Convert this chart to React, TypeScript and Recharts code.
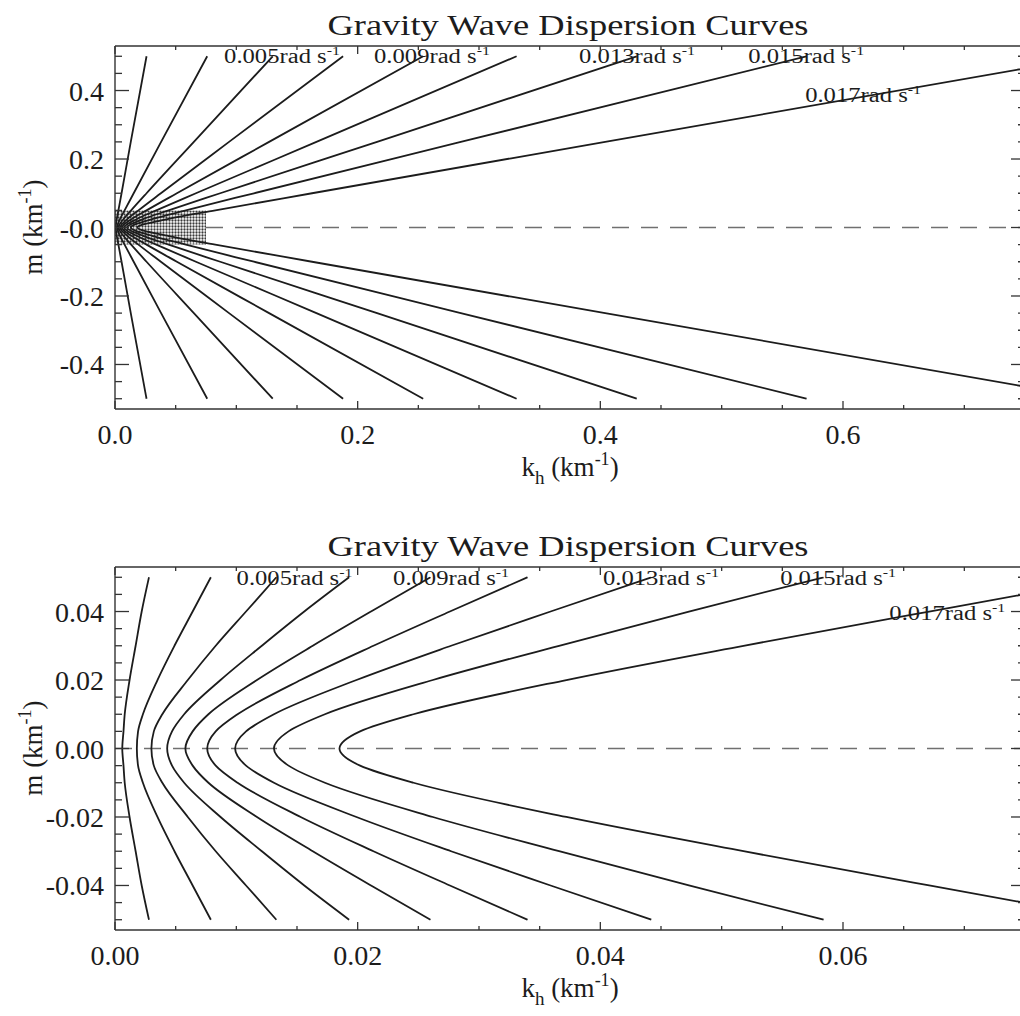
import React from "react"
import { LineChart, Line, XAxis, YAxis, ReferenceArea, ReferenceLine } from "recharts"

const FONT = '"Liberation Serif", "Times New Roman", Times, serif'
const INK = "#1c1c1c"
const AXIS = "#333333"

// contours that carry a printed frequency label (rad/s)
const labelFreq = ["0.005", "0.009", "0.013", "0.015", "0.017"]

// ---------- wide view: m levels (km^-1) and k_h on each contour ----------
const mWide = [0.5, 0.25, 0.1, 0.05, 0.025, 0, -0.025, -0.05, -0.1, -0.25, -0.5]
const wide001 = [0.026, 0.013, 0.0054, 0.0028, 0.0015, 0.0006, 0.0015, 0.0028, 0.0054, 0.013, 0.026]
const wide003 = [0.076, 0.038, 0.0154, 0.0079, 0.0042, 0.0018, 0.0042, 0.0079, 0.0154, 0.038, 0.076]
const wide005 = [0.13, 0.065, 0.026, 0.0133, 0.0071, 0.003, 0.0071, 0.0133, 0.026, 0.065, 0.13]
const wide007 = [0.188, 0.094, 0.0378, 0.0193, 0.0103, 0.0043, 0.0103, 0.0193, 0.0378, 0.094, 0.188]
const wide009 = [0.254, 0.127, 0.051, 0.026, 0.0139, 0.0058, 0.0139, 0.026, 0.051, 0.127, 0.254]
const wide011 = [0.331, 0.166, 0.0667, 0.034, 0.0182, 0.0076, 0.0182, 0.034, 0.0667, 0.166, 0.331]
const wide013 = [0.43, 0.216, 0.0867, 0.0442, 0.0237, 0.0099, 0.0237, 0.0442, 0.0867, 0.216, 0.43]
const wide015 = [0.57, 0.285, 0.1145, 0.0584, 0.0313, 0.0131, 0.0313, 0.0584, 0.1145, 0.285, 0.57]
const wide017 = [0.807, 0.404, 0.1624, 0.0827, 0.0444, 0.0185, 0.0444, 0.0827, 0.1624, 0.404, 0.807]
const wideCurves = [wide001, wide003, wide005, wide007, wide009, wide011, wide013, wide015, wide017]

const wideLabelK = [0.1377, 0.2613, 0.4303, 0.5697, 0.6166]
const wideLabelM = [0.5, 0.5, 0.5, 0.5, 0.386]

const wideXMajor = [0, 0.2, 0.4, 0.6]
const wideXText = ["0.0", "0.2", "0.4", "0.6"]
const wideXMinor = [0.05, 0.1, 0.15, 0.25, 0.3, 0.35, 0.45, 0.5, 0.55, 0.65, 0.7]
const wideYMajor = [-0.4, -0.2, 0, 0.2, 0.4]
const wideYText = ["-0.4", "-0.2", "-0.0", "0.2", "0.4"]
const wideYMinor = [-0.5, -0.45, -0.35, -0.3, -0.25, -0.15, -0.1, -0.05, 0.05, 0.1, 0.15, 0.25, 0.3, 0.35, 0.45, 0.5]

// ---------- close-up near the origin ----------
const mZoom = [0.05, 0.04, 0.03, 0.02, 0.01, 0.005, 0, -0.005, -0.01, -0.02, -0.03, -0.04, -0.05]
const zoom001 = [0.0028, 0.0022, 0.0017, 0.0012, 0.0008, 0.0007, 0.0006, 0.0007, 0.0008, 0.0012, 0.0017, 0.0022, 0.0028]
const zoom003 = [0.0079, 0.0064, 0.0049, 0.0035, 0.0023, 0.0019, 0.0018, 0.0019, 0.0023, 0.0035, 0.0049, 0.0064, 0.0079]
const zoom005 = [0.0133, 0.0108, 0.0083, 0.006, 0.0039, 0.0032, 0.003, 0.0032, 0.0039, 0.006, 0.0083, 0.0108, 0.0133]
const zoom007 = [0.0193, 0.0156, 0.0121, 0.0087, 0.0057, 0.0047, 0.0043, 0.0047, 0.0057, 0.0087, 0.0121, 0.0156, 0.0193]
const zoom009 = [0.026, 0.0211, 0.0163, 0.0117, 0.0077, 0.0064, 0.0058, 0.0064, 0.0077, 0.0117, 0.0163, 0.0211, 0.026]
const zoom011 = [0.034, 0.0276, 0.0213, 0.0153, 0.0101, 0.0083, 0.0076, 0.0083, 0.0101, 0.0153, 0.0213, 0.0276, 0.034]
const zoom013 = [0.0442, 0.0359, 0.0277, 0.0199, 0.0131, 0.0108, 0.0099, 0.0108, 0.0131, 0.0199, 0.0277, 0.0359, 0.0442]
const zoom015 = [0.0584, 0.0473, 0.0366, 0.0262, 0.0173, 0.0143, 0.0131, 0.0143, 0.0173, 0.0262, 0.0366, 0.0473, 0.0584]
const zoom017 = [0.0827, 0.0671, 0.0518, 0.0372, 0.0246, 0.0202, 0.0185, 0.0202, 0.0246, 0.0372, 0.0518, 0.0671, 0.0827]
const zoomCurves = [zoom001, zoom003, zoom005, zoom007, zoom009, zoom011, zoom013, zoom015, zoom017]

const zoomLabelK = [0.0148, 0.0277, 0.045, 0.0596, 0.0686]
const zoomLabelM = [0.0499, 0.0499, 0.0499, 0.0499, 0.0397]

const zoomXMajor = [0, 0.02, 0.04, 0.06]
const zoomXText = ["0.00", "0.02", "0.04", "0.06"]
const zoomXMinor = [0.005, 0.01, 0.015, 0.025, 0.03, 0.035, 0.045, 0.05, 0.055, 0.065, 0.07]
const zoomYMajor = [-0.04, -0.02, 0, 0.02, 0.04]
const zoomYText = ["-0.04", "-0.02", "0.00", "0.02", "0.04"]
const zoomYMinor = [-0.05, -0.045, -0.035, -0.03, -0.025, -0.015, -0.01, -0.005, 0.005, 0.01, 0.015, 0.025, 0.03, 0.035, 0.045, 0.05]

type Pt = { k: number; m: number; freq?: string }
type Side = "bottom" | "top" | "left" | "right"

const toPoints = (ks: number[], ms: number[]): Pt[] => ks.map((k, i) => ({ k, m: ms[i] }))

// inward IDL-style ticks; labels only on the outer bottom/left axes
function tickRenderer(side: Side, majors: number[], texts: string[]) {
  return (props: any) => {
    const { x, y, payload } = props
    const v = payload.value
    const idx = majors.findIndex((t) => Math.abs(t - v) < 1e-9)
    const major = idx >= 0
    const horiz = side === "bottom" || side === "top"
    const len = horiz ? (major ? 8 : 4) : major ? 14 : 7
    let line
    if (side === "bottom") line = <line x1={x} y1={y} x2={x} y2={y - len} />
    else if (side === "top") line = <line x1={x} y1={y} x2={x} y2={y + len} />
    else if (side === "left") line = <line x1={x} y1={y} x2={x + len} y2={y} />
    else line = <line x1={x} y1={y} x2={x - len} y2={y} />
    return (
      <g>
        <g stroke={AXIS} strokeWidth={1.3}>{line}</g>
        {major && side === "bottom" && (
          <text x={x} y={y + 35} textAnchor="middle" fontFamily={FONT} fontSize={28} fill={INK}>
            {texts[idx]}
          </text>
        )}
        {major && side === "left" && (
          <text x={x - 11} y={y + 10} textAnchor="end" fontFamily={FONT} fontSize={28} fill={INK}>
            {texts[idx]}
          </text>
        )}
      </g>
    )
  }
}

function labelRenderer(yTop: number) {
  return (p: any) => {
    const { cx, cy, payload, index } = p
    if (cx == null || cy == null) return <g key={`lbl-${index}`} />
    const nearTop = payload.m > yTop * 0.9
    return (
      <g key={`lbl-${index}`}>
        {nearTop && <rect x={cx - 60} y={cy - 9} width={120} height={8} fill="#ffffff" />}
        <text
          x={cx}
          y={cy + 7}
          textAnchor="middle"
          fontFamily={FONT}
          fontSize={20}
          textLength={116}
          lengthAdjust="spacingAndGlyphs"
          fill={INK}
        >
          {payload.freq}rad s
          <tspan dy={-8} fontSize={13}>-1</tspan>
        </text>
      </g>
    )
  }
}

type PanelProps = {
  id: string
  top: number
  xMax: number
  yMax: number
  ms: number[]
  curves: number[][]
  labelK: number[]
  labelM: number[]
  xMajor: number[]
  xText: string[]
  xMinor: number[]
  yMajor: number[]
  yText: string[]
  yMinor: number[]
  shade?: boolean
}

function Panel(props: PanelProps) {
  const { id, top, xMax, yMax, ms, curves, labelK, labelM, xMajor, xText, xMinor, yMajor, yText, yMinor, shade } = props
  const xTicks = [...xMajor, ...xMinor].sort((a, b) => a - b)
  const yTicks = [...yMajor, ...yMinor].sort((a, b) => a - b)
  const labels: Pt[] = labelK.map((k, i) => ({ k, m: labelM[i], freq: labelFreq[i] }))
  const patternId = `stipple-${id}`
  // the stippled box marks the extent of the close-up panel
  const shadeX = xMax / 10
  const shadeY = yMax > 0.1 ? 0.05 : 0.005

  return (
    <div style={{ position: "absolute", left: 0, top, width: 1040, height: 520 }}>
      <LineChart width={1040} height={520} margin={{ top: 45, right: 14, bottom: 31, left: 55 }}>
        <defs>
          <pattern id={patternId} width={3} height={3} patternUnits="userSpaceOnUse">
            <rect width={3} height={3} fill="#ffffff" />
            <circle cx={1.5} cy={1.5} r={1.15} fill="#3a3a3a" />
          </pattern>
        </defs>

        <text x={568} y={35} textAnchor="middle" fontFamily={FONT} fontSize={30} textLength={481} lengthAdjust="spacingAndGlyphs" fill={INK}>
          Gravity Wave Dispersion Curves
        </text>
        <text x={570} y={476} textAnchor="middle" fontFamily={FONT} fontSize={27} fill={INK}>
          k<tspan dy={8} fontSize={19}>h</tspan>
          <tspan dy={-8}> (km</tspan>
          <tspan dy={-11} fontSize={18}>-1</tspan>
          <tspan dy={11}>)</tspan>
        </text>
        <text x={42} y={227} textAnchor="middle" fontFamily={FONT} fontSize={27} fill={INK} transform="rotate(-90 42 227)">
          m (km<tspan dy={-11} fontSize={18}>-1</tspan>
          <tspan dy={11}>)</tspan>
        </text>

        <XAxis
          xAxisId="b"
          dataKey="k"
          type="number"
          domain={[0, xMax]}
          allowDataOverflow
          ticks={xTicks}
          interval={0}
          height={80}
          tickSize={0}
          tickMargin={0}
          tickLine={false}
          axisLine={{ stroke: AXIS, strokeWidth: 1.4 }}
          tick={tickRenderer("bottom", xMajor, xText)}
        />
        <XAxis
          xAxisId="t"
          orientation="top"
          dataKey="k"
          type="number"
          domain={[0, xMax]}
          allowDataOverflow
          ticks={xTicks}
          interval={0}
          height={1}
          tickSize={0}
          tickMargin={0}
          tickLine={false}
          axisLine={{ stroke: AXIS, strokeWidth: 1.4 }}
          tick={tickRenderer("top", xMajor, xText)}
        />
        <YAxis
          yAxisId="l"
          type="number"
          domain={[-yMax, yMax]}
          allowDataOverflow
          ticks={yTicks}
          interval={0}
          width={60}
          tickSize={0}
          tickMargin={0}
          tickLine={false}
          axisLine={{ stroke: AXIS, strokeWidth: 1.4 }}
          tick={tickRenderer("left", yMajor, yText)}
        />
        <YAxis
          yAxisId="r"
          orientation="right"
          type="number"
          domain={[-yMax, yMax]}
          allowDataOverflow
          ticks={yTicks}
          interval={0}
          width={1}
          tickSize={0}
          tickMargin={0}
          tickLine={false}
          axisLine={{ stroke: AXIS, strokeWidth: 1.4 }}
          tick={tickRenderer("right", yMajor, yText)}
        />

        {shade ? (
          <ReferenceLine
            xAxisId="b"
            yAxisId="l"
            segment={[{ x: shadeX, y: 0 }, { x: xMax, y: 0 }]}
            stroke="#707070"
            strokeWidth={1.7}
            strokeDasharray="17 12"
          />
        ) : (
          <ReferenceLine xAxisId="b" yAxisId="l" y={0} stroke="#707070" strokeWidth={1.7} strokeDasharray="17 12" />
        )}
        {shade && (
          <ReferenceArea
            xAxisId="b"
            yAxisId="l"
            x1={0}
            x2={shadeX}
            y1={-shadeY}
            y2={shadeY}
            fill={`url(#${patternId})`}
            fillOpacity={1}
            stroke="none"
          />
        )}

        {curves.map((ks, i) => (
          <Line
            key={`c-${i}`}
            xAxisId="b"
            yAxisId="l"
            data={toPoints(ks, ms)}
            dataKey="m"
            type="monotoneY"
            stroke={INK}
            strokeWidth={1.8}
            dot={false}
            activeDot={false}
            isAnimationActive={false}
          />
        ))}

        <Line
          xAxisId="b"
          yAxisId="l"
          data={labels}
          dataKey="m"
          stroke="none"
          dot={labelRenderer(yMax)}
          activeDot={false}
          isAnimationActive={false}
        />
      </LineChart>
    </div>
  )
}

export default function App() {
  return (
    <div style={{ position: "absolute", left: 0, top: 0, width: 1020, height: 1016, overflow: "hidden", background: "#fff" }}>
      <Panel
        id="wide"
        top={0}
        xMax={0.75}
        yMax={0.53}
        ms={mWide}
        curves={wideCurves}
        labelK={wideLabelK}
        labelM={wideLabelM}
        xMajor={wideXMajor}
        xText={wideXText}
        xMinor={wideXMinor}
        yMajor={wideYMajor}
        yText={wideYText}
        yMinor={wideYMinor}
        shade
      />
      <Panel
        id="zoom"
        top={521}
        xMax={0.075}
        yMax={0.053}
        ms={mZoom}
        curves={zoomCurves}
        labelK={zoomLabelK}
        labelM={zoomLabelM}
        xMajor={zoomXMajor}
        xText={zoomXText}
        xMinor={zoomXMinor}
        yMajor={zoomYMajor}
        yText={zoomYText}
        yMinor={zoomYMinor}
      />
    </div>
  )
}
